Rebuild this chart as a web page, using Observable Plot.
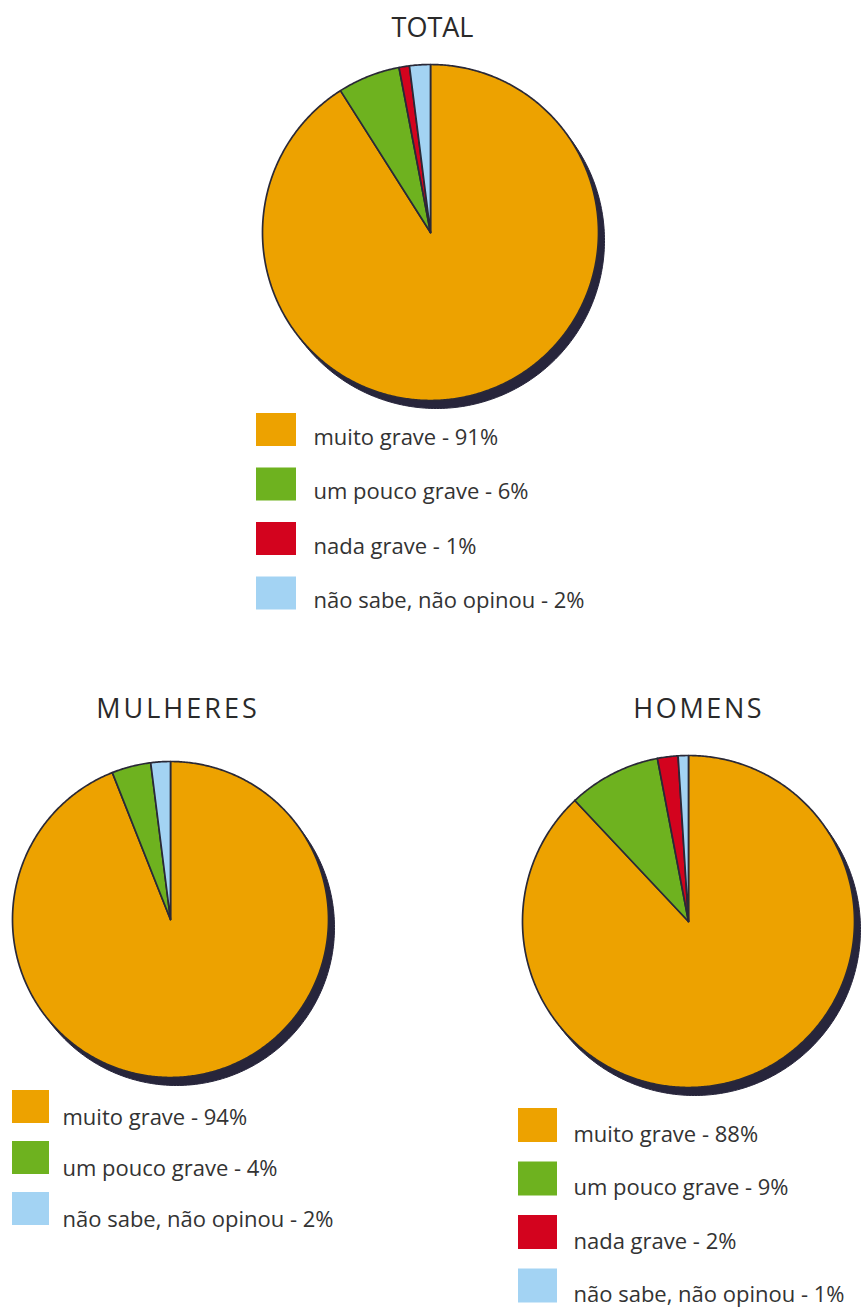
<!DOCTYPE html>
<html>
<head>
<meta charset="utf-8">
<script src="https://cdn.jsdelivr.net/npm/d3@7"></script>
<script src="https://cdn.jsdelivr.net/npm/@observablehq/plot@0.6"></script>
<style>
  html, body { margin: 0; padding: 0; background: #fff; }
  #chart svg { display: block; }
</style>
</head>
<body>
<div id="chart"></div>
<script>
// ---- data ----
const categories = ["muito grave", "um pouco grave", "nada grave", "não sabe, não opinou"];
const titles = ["TOTAL", "MULHERES", "HOMENS"];
const totalValues = [91, 6, 1, 2];
const mulheresValues = [94, 4, 0, 2];
const homensValues = [88, 9, 2, 1];
const sliceColors = ["#eda200", "#6eb21f", "#d3031e", "#a3d3f3"];

// ---- layout (positions / sizes) ----
const W = 865, H = 1308;
const layout = [
  {cx: 430, cy: 232, r: 168, tx: 432, tBase: 36, tSpace: 0, lx: 256, ly: 413, sw: 40, sh: 33, step: 54.5, textX: 313, base: 444},
  {cx: 170, cy: 919, r: 158, tx: 176, tBase: 717, tSpace: 3, lx: 12, ly: 1090, sw: 37, sh: 33, step: 51, textX: 62, base: 1124},
  {cx: 688, cy: 921, r: 166, tx: 697, tBase: 717, tSpace: 2.6, lx: 518, ly: 1108, sw: 39, sh: 34, step: 53.5, textX: 573, base: 1141}
];
const seriesValues = [totalValues, mulheresValues, homensValues];
const shadowDx = 6, shadowDy = 8;
const titleSize = 27, legendSize = 22;

// ---- build mark tables ----
const slices = [], shadows = [], swatches = [], labels = [], heads = [];
seriesValues.forEach((values, p) => {
  const L = layout[p];
  const sum = d3.sum(values);
  let acc = 0;
  values.forEach((v, i) => {
    if (!v) return;
    const a0 = acc / sum * 2 * Math.PI;
    acc += v;
    const a1 = acc / sum * 2 * Math.PI;
    const n = Math.max(2, Math.ceil((a1 - a0) / (Math.PI / 360)));
    const key = titles[p] + "-" + i;
    slices.push({key, cat: categories[i], x: L.cx, y: L.cy});
    for (let k = 0; k <= n; k++) {
      const a = a0 + (a1 - a0) * k / n;
      slices.push({key, cat: categories[i], x: L.cx + L.r * Math.sin(a), y: L.cy - L.r * Math.cos(a)});
    }
    slices.push({key, cat: categories[i], x: L.cx, y: L.cy});
  });
  for (let k = 0; k <= 360; k++) {
    const a = k / 360 * 2 * Math.PI;
    shadows.push({key: titles[p], x: L.cx + shadowDx + L.r * Math.sin(a), y: L.cy + shadowDy - L.r * Math.cos(a)});
  }
  let j = 0;
  values.forEach((v, i) => {
    if (!v) return;
    swatches.push({cat: categories[i], x1: L.lx, x2: L.lx + L.sw, y1: L.ly + j * L.step, y2: L.ly + j * L.step + L.sh});
    labels.push({text: `${categories[i]} - ${v}%`, x: L.textX, y: L.base + j * L.step - 0.32 * legendSize});
    j++;
  });
  heads.push({text: titles[p], x: L.tx + L.tSpace / 2, y: L.tBase - 0.32 * titleSize});
});

const svg = Plot.plot({
  width: W,
  height: H,
  margin: 0,
  x: {domain: [0, W], range: [0, W], axis: null},
  y: {domain: [0, H], range: [0, H], axis: null},
  color: {domain: categories, range: sliceColors},
  style: {fontFamily: "'Open Sans', sans-serif", background: "#fff"},
  marks: [
    Plot.line(shadows, {x: "x", y: "y", z: "key", fill: "#27253b", stroke: "#27253b", strokeWidth: 1}),
    Plot.line(slices, {x: "x", y: "y", z: "key", fill: "cat", stroke: "#2a2937", strokeWidth: 1.7, strokeLinejoin: "round"}),
    Plot.rect(swatches, {x1: "x1", x2: "x2", y1: "y1", y2: "y2", fill: "cat", inset: 0}),
    Plot.text(labels, {x: "x", y: "y", text: "text", textAnchor: "start", fontSize: legendSize, fill: "#333"}),
    Plot.text(heads, {x: "x", y: "y", text: "text", textAnchor: "middle", fontSize: titleSize, fill: "#2a2a2a"})
  ]
});
d3.select(svg).selectAll("text").each(function() {
  const i = titles.indexOf(d3.select(this).text());
  if (i >= 0 && layout[i].tSpace) d3.select(this).attr("letter-spacing", layout[i].tSpace + "px");
});
document.getElementById("chart").appendChild(svg);
</script>
</body>
</html>
